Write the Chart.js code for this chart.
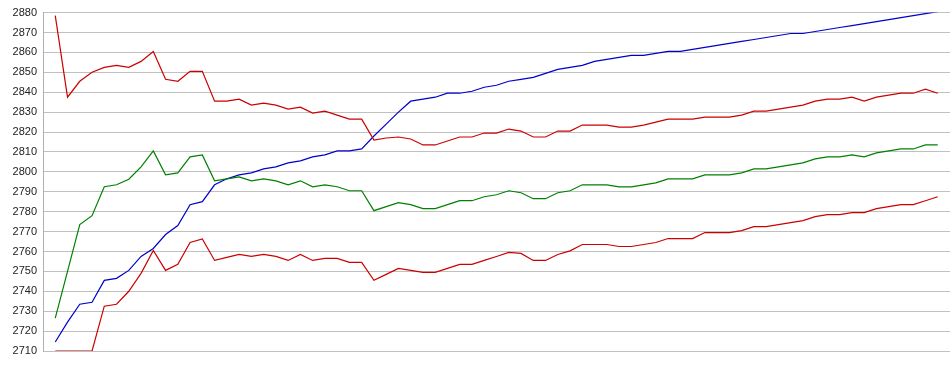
<!DOCTYPE html>
<html>
<head>
<meta charset="utf-8">
<script src="https://cdn.jsdelivr.net/npm/chart.js@4/dist/chart.umd.min.js"></script>
<style>
html,body{margin:0;padding:0;background:#fff;}
#wrap{width:950px;height:375px;position:relative;}
</style>
</head>
<body>
<div id="wrap"><canvas id="c"></canvas></div>
<script>
// y-axis tick settings
const yMin = 2710, yMax = 2880, yStep = 10;

// series values (73 points each)
const redUpper = [2878.5,2837.5,2845.5,2850,2852.5,2853.5,2852.5,2855.5,2860.5,2846.5,2845.5,2850.5,2850.5,2835.5,2835.5,2836.5,2833.5,2834.5,2833.5,2831.5,2832.5,2829.5,2830.5,2828.5,2826.5,2826.5,2816,2817,2817.5,2816.5,2813.5,2813.5,2815.5,2817.5,2817.5,2819.5,2819.5,2821.5,2820.5,2817.5,2817.5,2820.5,2820.5,2823.5,2823.5,2823.5,2822.5,2822.5,2823.5,2825,2826.5,2826.5,2826.5,2827.5,2827.5,2827.5,2828.5,2830.5,2830.5,2831.5,2832.5,2833.5,2835.5,2836.5,2836.5,2837.5,2835.5,2837.5,2838.5,2839.5,2839.5,2841.5,2839.5];

const green = [2726.5,2750,2773.5,2778,2792.5,2793.5,2796.3,2802.5,2810.5,2798.5,2799.5,2807.5,2808.5,2795.5,2796.5,2797.5,2795.5,2796.5,2795.5,2793.5,2795.5,2792.5,2793.5,2792.5,2790.5,2790.5,2780.5,2782.5,2784.5,2783.5,2781.5,2781.5,2783.5,2785.5,2785.5,2787.5,2788.5,2790.5,2789.5,2786.5,2786.5,2789.5,2790.5,2793.5,2793.5,2793.5,2792.5,2792.5,2793.5,2794.5,2796.5,2796.5,2796.5,2798.5,2798.5,2798.5,2799.5,2801.5,2801.5,2802.5,2803.5,2804.5,2806.5,2807.5,2807.5,2808.5,2807.5,2809.5,2810.5,2811.5,2811.5,2813.5,2813.5];

const blue = [2714.5,2724.5,2733.5,2734.5,2745.5,2746.5,2750.5,2757.5,2761.5,2768.5,2773,2783.5,2785,2793.5,2796.5,2798.5,2799.5,2801.5,2802.5,2804.5,2805.5,2807.5,2808.5,2810.5,2810.5,2811.5,2818,2824,2830,2835.5,2836.5,2837.5,2839.5,2839.5,2840.5,2842.5,2843.5,2845.5,2846.5,2847.5,2849.5,2851.5,2852.5,2853.5,2855.5,2856.5,2857.5,2858.5,2858.5,2859.5,2860.5,2860.5,2861.5,2862.5,2863.5,2864.5,2865.5,2866.5,2867.5,2868.5,2869.5,2869.5,2870.5,2871.5,2872.5,2873.5,2874.5,2875.5,2876.5,2877.5,2878.5,2879.5,2880.5];

const redLower = [2710,2710,2710,2710,2732.5,2733.5,2740,2749,2760.5,2750.5,2753.5,2764.5,2766.3,2755.5,2757,2758.5,2757.5,2758.5,2757.5,2755.5,2758.5,2755.5,2756.5,2756.5,2754.5,2754.5,2745.5,2748.5,2751.5,2750.5,2749.5,2749.5,2751.5,2753.5,2753.5,2755.5,2757.5,2759.5,2759,2755.5,2755.5,2758.5,2760.3,2763.5,2763.5,2763.5,2762.5,2762.5,2763.5,2764.5,2766.5,2766.5,2766.5,2769.5,2769.5,2769.5,2770.5,2772.5,2772.5,2773.5,2774.5,2775.5,2777.5,2778.5,2778.5,2779.5,2779.5,2781.5,2782.5,2783.5,2783.5,2785.5,2787.5];

const toXY = arr => arr.map((v, i) => ({x: i, y: v}));
const n = blue.length;

function ds(data, color) {
  return {
    data: toXY(data),
    borderColor: color,
    backgroundColor: color,
    borderWidth: 1.2,
    pointRadius: 0,
    pointHoverRadius: 0,
    tension: 0,
    fill: false
  };
}

new Chart(document.getElementById('c'), {
  type: 'line',
  data: {
    datasets: [
      ds(redUpper, '#cc0000'),
      ds(green, '#008000'),
      ds(redLower, '#cc0000'),
      ds(blue, '#0000cc')
    ]
  },
  options: {
    responsive: true,
    maintainAspectRatio: false,
    animation: false,
    events: [],
    layout: { padding: { top: 10, bottom: 24, left: 0, right: 0 } },
    plugins: { legend: { display: false }, tooltip: { enabled: false } },
    scales: {
      x: {
        type: 'linear',
        min: -1,
        max: n,
        display: false
      },
      y: {
        min: yMin,
        max: yMax,
        ticks: {
          stepSize: yStep,
          autoSkip: false,
          padding: 6,
          color: '#222',
          font: { family: 'Liberation Sans, Arial, sans-serif', size: 11 },
          callback: v => String(v)
        },
        grid: { color: '#c0c0c0', lineWidth: 1, drawTicks: false },
        border: { color: '#b0b0b0', width: 1 },
        afterFit: s => { s.width = 43; }
      }
    }
  }
});
</script>
</body>
</html>
